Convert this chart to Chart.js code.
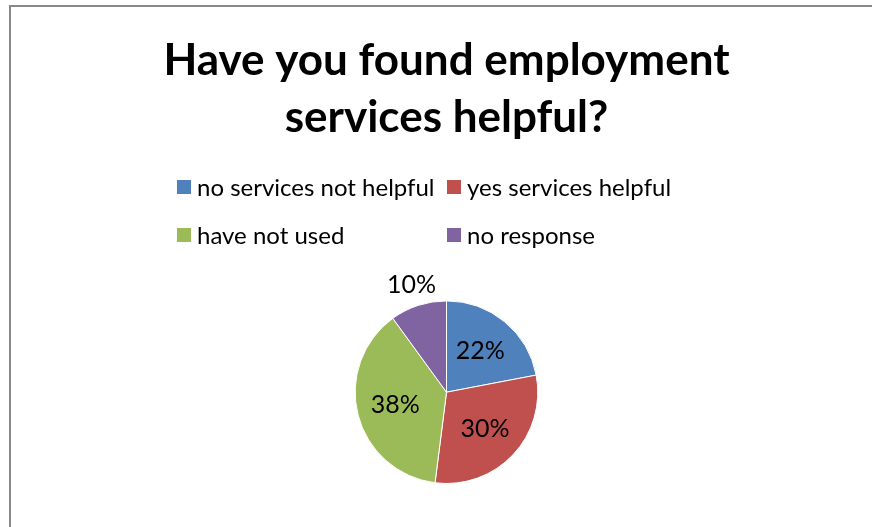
<!DOCTYPE html>
<html>
<head>
<meta charset="utf-8">
<script src="https://cdn.jsdelivr.net/npm/chart.js@4"></script>
<style>
    body { margin: 0; background: #fff; overflow: hidden; }
    #frame {
        position: absolute;
        left: 9px;
        top: 5px;
        width: 900px;
        height: 600px;
        border-left: 2px solid #898989;
        border-top: 2px solid #898989;
    }
    #holder { position: absolute; left: 0; top: 0; }
</style>
</head>
<body>
<div id="frame"></div>
<div id="holder"><canvas id="myChart" width="872" height="527"></canvas></div>
<script>
// Survey answers (percent of respondents)

const answers = ["no services not helpful", "yes services helpful", "have not used", "no response"];
const shares = [22, 30, 38, 10];
const sliceColors = ['#4F81BD', '#C0504D', '#9BBB59', '#8064A2'];

// Percent labels, small slices go outside

const sliceLabels = {
    id: 'sliceLabels',
    afterDatasetsDraw(chart) {
        const ctx = chart.ctx;
        const meta = chart.getDatasetMeta(0);
        ctx.save();
        ctx.font = '25px Lato';
        ctx.fillStyle = '#000';
        ctx.textAlign = 'center';
        ctx.textBaseline = 'middle';
        meta.data.forEach(function (arc, i) {
            const p = arc.getProps(['x', 'y', 'startAngle', 'endAngle', 'outerRadius'], true);
            const mid = (p.startAngle + p.endAngle) / 2;
            const outside = shares[i] < 15;
            const r = outside ? p.outerRadius + 22 : p.outerRadius * 0.58;
            ctx.fillText(shares[i] + '%', p.x + Math.cos(mid) * r, p.y + Math.sin(mid) * r);
        });
        ctx.restore();
    }
};

// Two column legend under the title

const gridLegend = {
    id: 'gridLegend',
    afterDraw(chart) {
        const ctx = chart.ctx;
        const colX = [177, 447];
        const rowY = [187, 235];
        ctx.save();
        ctx.font = '24px Lato';
        ctx.textBaseline = 'middle';
        ctx.textAlign = 'left';
        chart.data.labels.forEach(function (label, i) {
            const x = colX[i % 2];
            const y = rowY[Math.floor(i / 2)];
            ctx.fillStyle = chart.data.datasets[0].backgroundColor[i];
            ctx.fillRect(x, y - 7, 14, 14);
            ctx.fillStyle = '#000';
            ctx.fillText(label, x + 20, y + 1);
        });
        ctx.restore();
    }
};

var ctx = document.getElementById('myChart').getContext('2d');
var chart = new Chart(ctx, {
    type: 'pie',
    data: {
        labels: answers,
        datasets: [{
            data: shares,
            backgroundColor: sliceColors,
            borderColor: '#ffffff',
            borderWidth: 1,
        }]
    },
    options: {
        responsive: false,
        animation: false,
        layout: {
            padding: { left: 21, right: 0, top: 0, bottom: 43 }
        },
        plugins: {
            title: {
                display: true,
                text: ['Have you found employment', 'services helpful?'],
                color: '#000',
                font: { family: 'Lato', size: 44, weight: 'bold', lineHeight: 1.3 },
                padding: { top: 32, bottom: 154 }
            },
            legend: { display: false },
            tooltip: { enabled: false }
        }
    },
    plugins: [sliceLabels, gridLegend]
});
</script>
</body>
</html>
